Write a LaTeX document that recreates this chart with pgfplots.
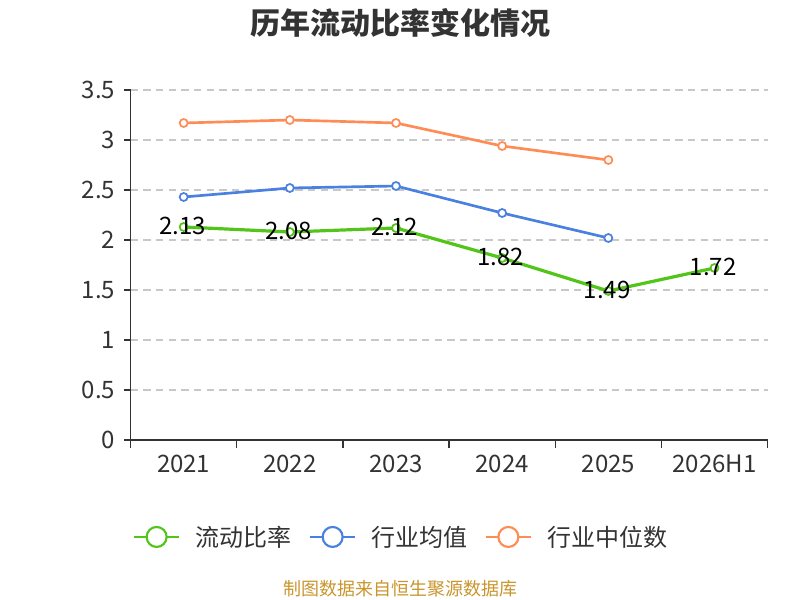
\documentclass[border=0pt]{standalone}
\usepackage{pgfplots}
\pgfplotsset{compat=1.18}
\usepackage{fontspec}
\setmainfont{Noto Sans CJK SC}
\definecolor{cgreen}{HTML}{52C41A}
\definecolor{cblue}{HTML}{4A80E0}
\definecolor{corange}{HTML}{FF8C55}
\definecolor{ctext}{HTML}{333333}
\definecolor{csrc}{HTML}{C9952C}
\definecolor{cgrid}{HTML}{C8C8C8}
\begin{document}
\begin{tikzpicture}[x=0.75pt,y=0.75pt]
\useasboundingbox (0,0) rectangle (800,600);
\node[font=\fontsize{22.5}{25}\selectfont\bfseries, text=ctext] at (400,577) {历年流动比率变化情况};
\node[font=\fontsize{13.5}{15}\selectfont, text=csrc] at (400,11) {制图数据来自恒生聚源数据库};
\begin{axis}[
  at={(123,160)}, anchor=south west,
  scale only axis, width=477.75pt, height=262.5pt,
  xmin=-0.5, xmax=5.5, ymin=0, ymax=3.5,
  axis lines=left, axis line style={-, color=ctext, line width=1pt},
  xtick={0,1,2,3,4,5},
  xticklabels={2021,2022,2023,2024,2025,2026H1},
  major x tick style={draw=none},
  minor xtick={-0.5,0.5,1.5,2.5,3.5,4.5,5.5},
  minor tick length=6pt,
  minor x tick style={color=ctext, line width=1pt},
  tick align=outside,
  ytick={0,0.5,1,1.5,2,2.5,3,3.5},
  yticklabels={0,0.5,1,1.5,2,2.5,3,3.5},
  major y tick style={color=ctext, line width=1pt},
  major tick length=5pt,
  ymajorgrids, grid style={dash pattern=on 5.5pt off 4pt, color=cgrid, line width=1pt},
  tick label style={font=\fontsize{18}{20}\selectfont, text=ctext},
  /pgf/number format/assume math mode=true,
  xticklabel style={yshift=-3pt},
  yticklabel style={xshift=-3pt},
  clip=false,
  legend columns=3,
  legend style={at={(0.425,-0.277)}, anchor=center, draw=none, font=\fontsize{18}{20}\selectfont, text=ctext, /tikz/every even column/.append style={column sep=11pt}},
  legend image code/.code={
    \draw[#1, line width=1.6pt, mark=none] (0pt,0pt) -- (34pt,0pt);
    \draw[#1, line width=1.6pt, fill=white, mark=none] (17pt,0pt) circle (7.5pt);
    \path (43pt,0pt);
  },
]
\addplot[color=cgreen, line width=2.4pt, mark=*, mark size=3pt, mark options={fill=white, line width=1.3pt},
  nodes near coords, point meta=explicit symbolic,
  every node near coord/.append style={anchor=center, text=black, font=\fontsize{18}{20}\selectfont, xshift=-1pt, yshift=1pt}]
  coordinates {(0,2.13)[2.13] (1,2.08)[2.08] (2,2.12)[2.12] (3,1.82)[1.82] (4,1.49)[1.49] (5,1.72)[1.72]};
\addlegendentry{流动比率}
\addplot[color=cblue, line width=2pt, mark=*, mark size=3pt, mark options={fill=white, line width=1.3pt}]
  coordinates {(0,2.43) (1,2.52) (2,2.54) (3,2.27) (4,2.02)};
\addlegendentry{行业均值}
\addplot[color=corange, line width=2pt, mark=*, mark size=3pt, mark options={fill=white, line width=1.3pt}]
  coordinates {(0,3.17) (1,3.20) (2,3.17) (3,2.94) (4,2.80)};
\addlegendentry{行业中位数}
\end{axis}
\end{tikzpicture}
\end{document}
